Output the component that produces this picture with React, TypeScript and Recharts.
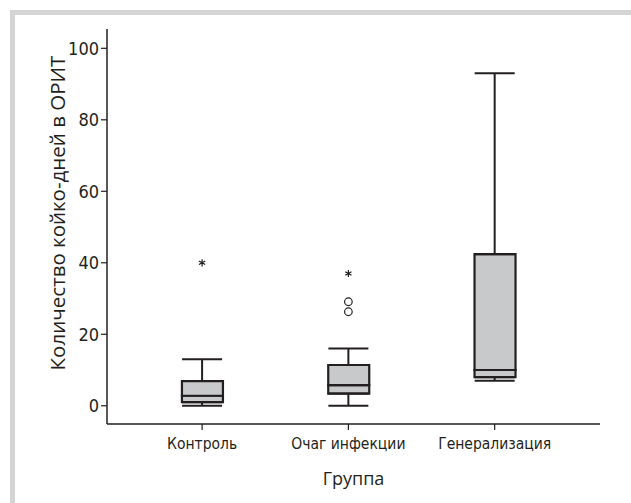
import React from 'react';
import {
  ComposedChart, Bar, Scatter, ErrorBar, XAxis, YAxis, Label
} from 'recharts';

// группы и пятичисловая сводка (по картинке)
const groups = ['Контроль', 'Очаг инфекции', 'Генерализация'];
const whiskerLow = [0, 0, 7];
const q1 = [1, 3.4, 8];
const median = [2.8, 5.8, 10];
const q3 = [6.9, 11.4, 42.4];
const whiskerHigh = [13, 16, 93];

// выбросы: кружки и экстремальные (звёздочки)
const outlierGroup = [2, 2];
const outlierValue = [29.1, 26.3];
const extremeGroup = [1, 2];
const extremeValue = [40, 37];

const yTicks = [0, 20, 40, 60, 80, 100];

const boxData = groups.map((g, i) => ({
  x: i + 1,
  base: q1[i],
  lowerBox: median[i] - q1[i],
  upperBox: q3[i] - median[i],
}));
const upperWhisker = groups.map((g, i) => ({ x: i + 1, y: q3[i], err: [0, whiskerHigh[i] - q3[i]] }));
const lowerWhisker = groups.map((g, i) => ({ x: i + 1, y: q1[i], err: [q1[i] - whiskerLow[i], 0] }));
const outliers = outlierGroup.map((g, i) => ({ x: g, y: outlierValue[i] }));
const extremes = extremeGroup.map((g, i) => ({ x: g, y: extremeValue[i] }));

const INK = '#231f20';
const BOX = '#c8c9cb';
const narrow = '"DejaVu Sans Condensed", "DejaVu Sans", sans-serif';

const Asterisk = (props: any) => {
  const { cx, cy } = props;
  const r = 3.6;
  const d = [0, 60, 120].map(a => {
    const t = (a * Math.PI) / 180;
    return `M${cx - r * Math.sin(t)},${cy - r * Math.cos(t)}L${cx + r * Math.sin(t)},${cy + r * Math.cos(t)}`;
  }).join('');
  return <path d={d} stroke={INK} strokeWidth={1.2} fill="none" />;
};

const Ring = (props: any) => (
  <circle cx={props.cx} cy={props.cy} r={3.8} fill="none" stroke={INK} strokeWidth={1.2} />
);

export default function App() {
  return (
    <div style={{ position: 'absolute', left: 0, top: 0, width: 631, height: 503, background: '#fff', overflow: 'hidden' }}>
      <div style={{
        position: 'absolute', left: 10, top: 10, width: 640, height: 490,
        borderTop: '5px solid #d4d4d4', borderLeft: '5px solid #d4d4d4', borderBottom: '1px solid #efefef',
      }} />
      <div style={{ position: 'absolute', left: 0, top: 0 }}>
        <ComposedChart width={631} height={503} data={boxData} margin={{ top: 29, right: 31, bottom: 49, left: 47 }}>
          <XAxis
            dataKey="x" type="number" domain={[0.35, 3.72]} ticks={[1, 2, 3]}
            allowDataOverflow
            tickFormatter={(v: number) => groups[v - 1]}
            axisLine={{ stroke: INK, strokeWidth: 1.5 }}
            tickLine={{ stroke: INK, strokeWidth: 1.2 }}
            tickSize={6} tickMargin={8} height={30}
            tick={{ fill: INK, fontSize: 15.5, fontFamily: narrow, style: { fontStretch: 'condensed' } }}
          >
            <Label
              content={(p: any) => (
                <text x={p.viewBox.x + p.viewBox.width / 2} y={p.viewBox.y + 61} textAnchor="middle"
                  fill={INK} fontSize={18} fontFamily='"Open Sans", sans-serif'>Группа</text>
              )}
            />
          </XAxis>
          <XAxis xAxisId="top" orientation="top" type="number" domain={[0.35, 3.72]} height={0}
            tick={false} tickLine={false} axisLine={{ stroke: '#5a5a5a', strokeWidth: 1.5 }} />
          <YAxis
            type="number" domain={[-5.1, 105.4]} ticks={yTicks} allowDataOverflow
            axisLine={{ stroke: INK, strokeWidth: 1.5 }}
            tickLine={{ stroke: INK, strokeWidth: 1.2 }}
            tickSize={6} tickMargin={2} width={60}
            tick={{ fill: INK, fontSize: 18, fontFamily: narrow, style: { fontStretch: 'condensed' } }}
          >
            <Label
              content={(p: any) => (
                <text x={0} y={0} transform={`translate(${p.viewBox.x + 10},213) rotate(-90)`} textAnchor="middle"
                  dominantBaseline="central" fill={INK} fontSize={20.5} fontFamily='"Open Sans", sans-serif'>
                  Количество койко-дней в ОРИТ
                </text>
              )}
            />
          </YAxis>
          <YAxis yAxisId="right" orientation="right" type="number" domain={[-5.1, 105.4]} width={0}
            tick={false} tickLine={false} axisLine={{ stroke: INK, strokeWidth: 1.5 }} />

          <Scatter data={upperWhisker} dataKey="y" shape={() => <g />} isAnimationActive={false}>
            <ErrorBar dataKey="err" direction="y" width={20} stroke={INK} strokeWidth={2} />
          </Scatter>
          <Scatter data={lowerWhisker} dataKey="y" shape={() => <g />} isAnimationActive={false}>
            <ErrorBar dataKey="err" direction="y" width={20} stroke={INK} strokeWidth={2} />
          </Scatter>

          <Bar dataKey="base" stackId="box" barSize={41} fill="transparent" isAnimationActive={false} />
          <Bar dataKey="lowerBox" stackId="box" barSize={41} fill={BOX} stroke={INK} strokeWidth={2.2} isAnimationActive={false} />
          <Bar dataKey="upperBox" stackId="box" barSize={41} fill={BOX} stroke={INK} strokeWidth={2.2} isAnimationActive={false} />

          <Scatter data={outliers} dataKey="y" shape={Ring} isAnimationActive={false} />
          <Scatter data={extremes} dataKey="y" shape={Asterisk} isAnimationActive={false} />
        </ComposedChart>
      </div>
    </div>
  );
}
